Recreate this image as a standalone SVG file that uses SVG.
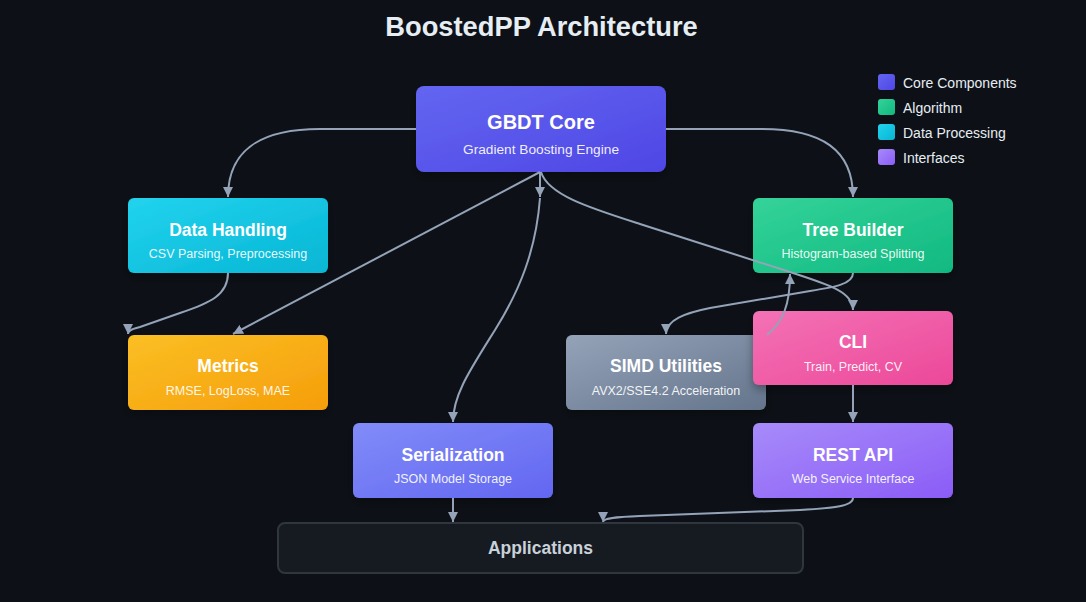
<svg xmlns="http://www.w3.org/2000/svg" width="1086" height="602" viewBox="0 0 1086 602">
  <defs>
    <linearGradient id="gCore" x1="0" y1="0" x2="1" y2="1"><stop offset="0" stop-color="#6366f1"/><stop offset="1" stop-color="#4f46e5"/></linearGradient>
    <linearGradient id="gData" x1="0" y1="0" x2="1" y2="1"><stop offset="0" stop-color="#22d3ee"/><stop offset="1" stop-color="#06b6d4"/></linearGradient>
    <linearGradient id="gAlgo" x1="0" y1="0" x2="1" y2="1"><stop offset="0" stop-color="#34d399"/><stop offset="1" stop-color="#10b981"/></linearGradient>
    <linearGradient id="gMetrics" x1="0" y1="0" x2="1" y2="1"><stop offset="0" stop-color="#fbbf24"/><stop offset="1" stop-color="#f59e0b"/></linearGradient>
    <linearGradient id="gSimd" x1="0" y1="0" x2="1" y2="1"><stop offset="0" stop-color="#94a3b8"/><stop offset="1" stop-color="#64748b"/></linearGradient>
    <linearGradient id="gCli" x1="0" y1="0" x2="1" y2="1"><stop offset="0" stop-color="#f472b6"/><stop offset="1" stop-color="#ec4899"/></linearGradient>
    <linearGradient id="gSer" x1="0" y1="0" x2="1" y2="1"><stop offset="0" stop-color="#818cf8"/><stop offset="1" stop-color="#6366f1"/></linearGradient>
    <linearGradient id="gIface" x1="0" y1="0" x2="1" y2="1"><stop offset="0" stop-color="#a78bfa"/><stop offset="1" stop-color="#8b5cf6"/></linearGradient>
    <filter id="shadow" x="-20%" y="-20%" width="140%" height="160%">
      <feDropShadow dx="0" dy="4" stdDeviation="5" flood-color="#000" flood-opacity="0.35"/>
    </filter>
    <marker id="arrow" viewBox="0 0 10 10" refX="10" refY="5" markerWidth="10" markerHeight="10" markerUnits="userSpaceOnUse" orient="auto">
      <path d="M0,0 L10,5 L0,10 z" fill="#94a3b8"/>
    </marker>
    <style>
      text { font-family: "Liberation Sans", Arial, sans-serif; }
      .title { font-size: 27.3px; font-weight: bold; fill: #e6edf3; text-anchor: middle; }
      .box { filter: url(#shadow); }
      .nt { font-size: 17.5px; font-weight: bold; fill: #ffffff; text-anchor: middle; }
      .ns { font-size: 12.5px; fill: #ffffff; fill-opacity: 0.92; text-anchor: middle; }
      .core-t { font-size: 20px; }
      .core-s { font-size: 13.7px; }
      .edge { fill: none; stroke: #94a3b8; stroke-width: 2; marker-end: url(#arrow); }
      .leg { font-size: 14px; fill: #e6edf3; }
    </style>
  </defs>

  <rect x="0" y="0" width="1086" height="602" fill="#0d1117"/>

  <text class="title" x="541.5" y="36">BoostedPP Architecture</text>

  <g id="legend">
    <rect x="878" y="74" width="17" height="16" rx="3" fill="url(#gCore)"/>
    <text class="leg" x="903" y="88">Core Components</text>
    <rect x="878" y="99" width="17" height="16" rx="3" fill="url(#gAlgo)"/>
    <text class="leg" x="903" y="113">Algorithm</text>
    <rect x="878" y="124" width="17" height="16" rx="3" fill="url(#gData)"/>
    <text class="leg" x="903" y="138">Data Processing</text>
    <rect x="878" y="149" width="17" height="16" rx="3" fill="url(#gIface)"/>
    <text class="leg" x="903" y="163">Interfaces</text>
  </g>

  <g id="applications">
    <rect x="278" y="523" width="525" height="50" rx="7" fill="#161b22" stroke="#30363d" stroke-width="2"/>
    <text x="540.5" y="554" font-size="17.5" font-weight="bold" fill="#c9d1d9" text-anchor="middle">Applications</text>
  </g>

  <g id="gbdt-core">
    <rect class="box" x="416" y="86" width="250" height="86" rx="8" fill="url(#gCore)"/>
    <text class="nt core-t" x="541" y="129">GBDT Core</text>
    <text class="ns core-s" x="541" y="154">Gradient Boosting Engine</text>
  </g>

  <g id="data-handling">
    <rect class="box" x="128" y="198" width="200" height="75" rx="6" fill="url(#gData)"/>
    <text class="nt" x="228" y="236">Data Handling</text>
    <text class="ns" x="228" y="258">CSV Parsing, Preprocessing</text>
  </g>

  <g id="tree-builder">
    <rect class="box" x="753" y="198" width="200" height="75" rx="6" fill="url(#gAlgo)"/>
    <text class="nt" x="853" y="236">Tree Builder</text>
    <text class="ns" x="853" y="258">Histogram-based Splitting</text>
  </g>

  <g id="metrics">
    <rect class="box" x="128" y="335" width="200" height="75" rx="6" fill="url(#gMetrics)"/>
    <text class="nt" x="228" y="372">Metrics</text>
    <text class="ns" x="228" y="395">RMSE, LogLoss, MAE</text>
  </g>

  <g id="simd-utilities">
    <rect class="box" x="566" y="335" width="200" height="75" rx="6" fill="url(#gSimd)"/>
    <text class="nt" x="666" y="372">SIMD Utilities</text>
    <text class="ns" x="666" y="395">AVX2/SSE4.2 Acceleration</text>
  </g>

  <g id="cli">
    <rect class="box" x="753" y="311" width="200" height="74" rx="6" fill="url(#gCli)"/>
    <text class="nt" x="853" y="348">CLI</text>
    <text class="ns" x="853" y="371">Train, Predict, CV</text>
  </g>

  <g id="serialization">
    <rect class="box" x="353" y="423" width="200" height="75" rx="6" fill="url(#gSer)"/>
    <text class="nt" x="453" y="461">Serialization</text>
    <text class="ns" x="453" y="483">JSON Model Storage</text>
  </g>

  <g id="rest-api">
    <rect class="box" x="753" y="423" width="200" height="75" rx="6" fill="url(#gIface)"/>
    <text class="nt" x="853" y="461">REST API</text>
    <text class="ns" x="853" y="483">Web Service Interface</text>
  </g>

  <g id="connectors">
    <path class="edge" d="M416,129 L320,129 C260,129 228,150 228,197"/>
    <path class="edge" d="M666,129 L762,129 C822,129 853,150 853,197"/>
    <path class="edge" d="M540,172 L233,334"/>
    <path class="edge" d="M228,273 C228,295 210,303 180,313 L140,327 C133,329 128,330 128,334"/>
    <path class="edge" d="M540,172 L540,197"/>
    <path class="edge" d="M540,198 C536,250 520,290 495,330 C470,370 453,395 453,422"/>
    <path class="edge" d="M541,172 C548,195 590,208 640,224 L790,272 C830,285 853,292 853,310"/>
    <path class="edge" d="M853,273 C853,284 835,287 810,291 L710,308 C685,313 666,320 666,334"/>
    <path class="edge" d="M767,335 C783,322 790,305 790,274"/>
    <path class="edge" d="M853,385 L853,422"/>
    <path class="edge" d="M453,498 L453,522"/>
    <path class="edge" d="M853,498 C853,506 835,508 800,510 L640,516 C615,517 603,518 603,522"/>
  </g>
</svg>
